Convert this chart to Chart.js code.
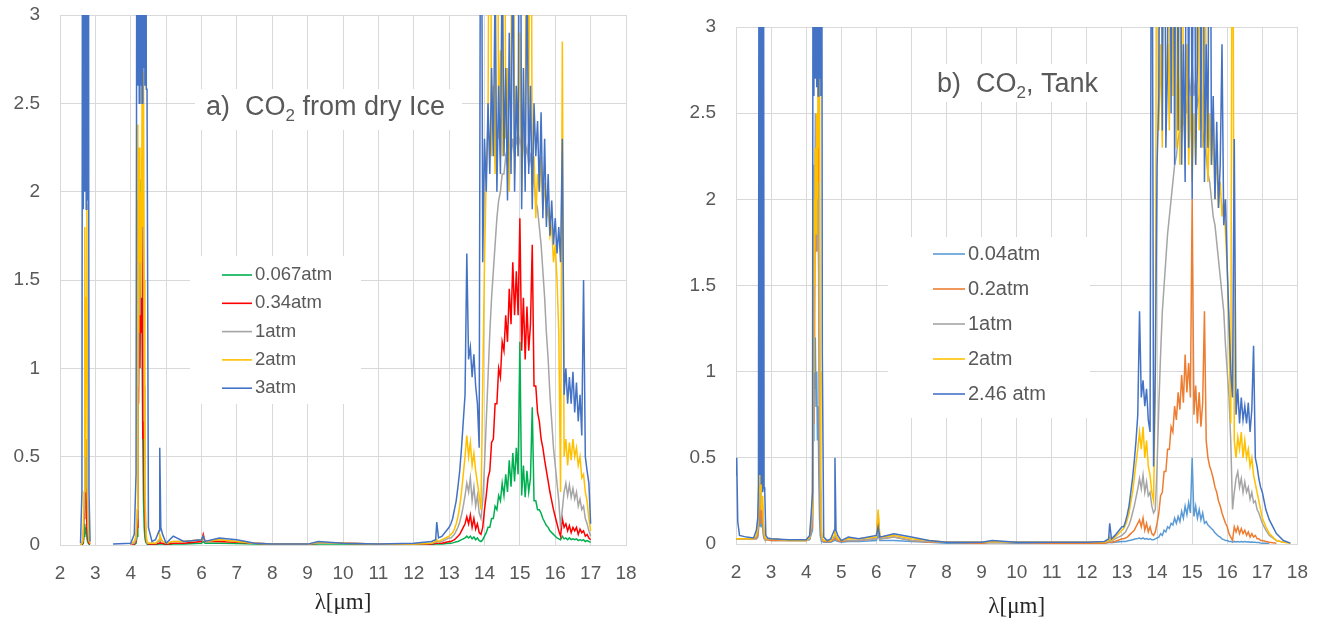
<!DOCTYPE html>
<html>
<head>
<meta charset="utf-8">
<script src="https://cdn.jsdelivr.net/npm/chart.js@4.4.1/dist/chart.umd.min.js"></script>
<style>
  body { margin: 0; background: #fff; }
  #wrap { position: relative; width: 1325px; height: 626px; }
  .panel { position: absolute; top: 0; height: 626px; }
</style>
</head>
<body>
<div id="wrap">
  <div class="panel" style="left:0;width:660px"><canvas id="chartA"></canvas></div>
  <div class="panel" style="left:660px;width:665px"><canvas id="chartB"></canvas></div>
</div>
<script>
// wavelength grid (um), shared by both panels
const wavelength = [
  2.00, 2.02, 2.05, 2.10, 2.30, 2.50, 2.58, 2.62, 2.64, 2.66, 2.68, 2.70, 2.72, 2.74, 2.76, 2.78, 2.80, 2.82, 2.85, 2.90, 3.00, 3.50, 4.00, 4.10, 4.15,
  4.18, 4.20, 4.22, 4.24, 4.26, 4.28, 4.30, 4.32, 4.34, 4.36, 4.38, 4.40, 4.42, 4.44, 4.46, 4.50,
  4.60, 4.70, 4.80, 4.82, 4.85, 4.90, 5.00, 5.20, 5.50, 6.00, 6.05, 6.10, 6.50, 7.00, 7.50, 8.00, 9.00, 9.30, 10.00, 11.00, 12.00, 12.50, 12.62, 12.65, 12.70, 12.80, 13.00,
  13.05, 13.10, 13.15, 13.20, 13.25, 13.30, 13.35, 13.40, 13.45, 13.50,
  13.55, 13.60, 13.65, 13.70, 13.75, 13.80, 13.85, 13.90, 13.95, 14.00,
  14.05, 14.10, 14.15, 14.20, 14.25, 14.30, 14.35, 14.40, 14.45, 14.50,
  14.55, 14.60, 14.65, 14.70, 14.75, 14.80, 14.85, 14.90, 14.95, 15.00,
  15.05, 15.10, 15.15, 15.20, 15.25, 15.30, 15.35, 15.40, 15.45, 15.50,
  15.55, 15.60, 15.65, 15.70, 15.75, 15.80, 15.85, 15.90, 15.95, 16.00,
  16.05, 16.10, 16.15, 16.20, 16.25, 16.30, 16.35, 16.40, 16.45, 16.50,
  16.55, 16.60, 16.65, 16.70, 16.75, 16.80, 16.85, 16.90, 16.95, 17.00,
  17.10, 17.20, 17.40, 17.60, 17.80, 18.00
];

// ---- panel a) CO2 from dry ice ----
const labelsA = ['0.067atm', '0.34atm', '1atm', '2atm', '3atm'];
const colorsA = ['#00B050', '#FF0000', '#A5A5A5', '#FFC000', '#4472C4'];

const atm0067 = [
  null, null, null, null, null, null, 0, 0.002, 0.005, 0.01, 0.05, 0.12, 0.06, 0.1, 0.04, 0.02, 0.01, 0.005, 0.002, null, null, null, 0.001, 0.002, 0.01,
  0.05, 0.6, 1.5, 1.8, 2.07, 1.6, 1.9, 1.3, 0.6, 0.25, 0.1, 0.04, 0.02, 0.01, 0.005, 0.002,
  0.002, 0.002, 0.005, 0.01, 0.005, 0.005, 0.002, 0.005, 0.005, 0.01, 0.02, 0.01, 0.01, 0.008, 0.005, 0.003, 0.003, 0.005, 0.005, 0.003, 0.003, 0.003, 0.005, 0.005, 0.005, 0.006, 0.01,
  0.01, 0.012, 0.015, 0.018, 0.02, 0.025, 0.03, 0.035, 0.04, 0.05,
  0.04, 0.05, 0.035, 0.045, 0.03, 0.04, 0.025, 0.02, 0.03, 0.05,
  0.07, 0.1, 0.1, 0.15, 0.15, 0.22, 0.2, 0.28, 0.25, 0.35,
  0.28, 0.4, 0.3, 0.48, 0.33, 0.52, 0.36, 0.55, 0.4, 1.15,
  0.28, 0.45, 0.27, 0.42, 0.3, 0.38, 0.78, 0.25, 0.25, 0.2,
  0.2, 0.18, 0.15, 0.13, 0.11, 0.1, 0.08, 0.07, 0.06, 0.05,
  0.04, 0.035, 0.03, 0.05, 0.035, 0.04, 0.03, 0.04, 0.03, 0.035,
  0.03, 0.035, 0.025, 0.03, 0.025, 0.03, 0.02, 0.025, 0.02, 0.015,
  null, null, null, null, null, null
];
const atm034 = [
  null, null, null, null, null, null, 0, 0.005, 0.01, 0.03, 0.15, 0.65, 0.2, 0.33, 0.1, 0.05, 0.02, 0.01, 0.005, null, null, null, 0.002, 0.005, 0.02,
  0.1, 1.95, 0.8, 1.4, 1.0, 1.6, 1.2, 1.95, 0.6, 0.7, 0.3, 0.15, 0.05, 0.02, 0.01, 0.005,
  0.005, 0.005, 0.01, 0.02, 0.01, 0.01, 0.005, 0.01, 0.01, 0.02, 0.06, 0.02, 0.02, 0.015, 0.01, 0.005, 0.005, 0.01, 0.01, 0.005, 0.005, 0.005, 0.01, 0.01, 0.01, 0.01, 0.02,
  0.02, 0.025, 0.03, 0.04, 0.05, 0.06, 0.08, 0.1, 0.12, 0.16,
  0.12, 0.17, 0.1, 0.15, 0.09, 0.12, 0.07, 0.06, 0.1, 0.2,
  0.28, 0.38, 0.42, 0.58, 0.6, 0.8, 0.8, 1.0, 0.95, 1.15,
  1.1, 1.3, 1.15, 1.45, 1.25, 1.6, 1.3, 1.55, 1.3, 1.85,
  1.1, 1.4, 1.05, 1.35, 1.1, 1.25, 1.7, 0.9, 0.9, 0.75,
  0.7, 0.6, 0.55, 0.48, 0.42, 0.36, 0.3, 0.25, 0.2, 0.16,
  0.12, 0.08, 0.05, 0.15, 0.1, 0.12, 0.08, 0.11, 0.07, 0.1,
  0.08, 0.1, 0.06, 0.09, 0.07, 0.08, 0.05, 0.06, 0.04, 0.03,
  null, null, null, null, null, null
];
const atm1A = [
  null, null, null, null, null, null, 0, 0.01, 0.02, 0.05, 0.2, 0.7, 0.3, 0.6, 0.4, 0.15, 0.05, 0.02, 0.01, null, null, null, 0.005, 0.01, 0.03,
  0.15, 1.5, 0.9, 1.8, 1.3, 2.0, 1.6, 2.2, 2.78, 1.6, 0.9, 0.3, 0.1, 0.03, 0.01, 0.01,
  0.01, 0.01, 0.02, 0.04, 0.03, 0.02, 0.01, 0.02, 0.02, 0.03, 0.04, 0.02, 0.03, 0.02, 0.01, 0.005, 0.005, 0.01, 0.01, 0.005, 0.005, 0.01, 0.015, 0.02, 0.015, 0.02, 0.04,
  0.04, 0.05, 0.06, 0.08, 0.1, 0.13, 0.17, 0.22, 0.28, 0.35,
  0.3, 0.38, 0.25, 0.33, 0.22, 0.28, 0.18, 0.15, 0.25, 0.45,
  0.7, 0.95, 1.2, 1.4, 1.55, 1.7, 1.85, 1.95, 2.0, 2.1,
  2.1, 2.2, 2.15, 2.25, 2.2, 2.3, 2.2, 2.3, 2.25, 2.3,
  2.25, 2.3, 2.2, 2.25, 2.15, 2.2, 2.1, 2.05, 1.95, 1.9,
  1.8, 1.7, 1.55, 1.4, 1.2, 1.05, 0.85, 0.7, 0.55, 0.45,
  0.35, 0.25, 0.1, 0.2, 0.3, 0.35, 0.28, 0.34, 0.27, 0.32,
  0.26, 0.3, 0.22, 0.26, 0.2, 0.22, 0.15, 0.12, 0.08, 0.05,
  null, null, null, null, null, null
];
const atm2A = [
  null, null, null, null, null, null, 0, 0.01, 0.02, 0.1, 0.3, 1.8, 0.5, 1.4, 1.93, 0.28, 0.1, 0.03, 0.01, null, null, null, 0.005, 0.02, 0.05,
  0.2, 2.38, 1.2, 2.25, 1.6, 2.0, 1.4, 2.6, 1.8, 2.68, 1.5, 0.4, 0.15, 0.05, 0.02, 0.01,
  0.01, 0.01, 0.03, 0.06, 0.04, 0.02, 0.01, 0.02, 0.02, 0.03, 0.05, 0.02, 0.03, 0.02, 0.01, 0.005, 0.005, 0.015, 0.01, 0.005, 0.005, 0.01, 0.02, 0.03, 0.02, 0.03, 0.05,
  0.06, 0.07, 0.09, 0.12, 0.16, 0.22, 0.3, 0.4, 0.5, 0.62,
  0.5, 0.58, 0.45, 0.52, 0.42, 0.35, 0.28, 0.2, 0.9, 1.6,
  2.1, 2.4, 5, 2.2, 2.6, 2.1, 5, 2.3, 2.8, 2.2,
  5, 2.3, 2.7, 2.0, 2.5, 5, 2.1, 2.6, 2.2, 2.9,
  2.0, 2.4, 2.1, 5, 2.3, 5, 2.0, 2.2, 1.85, 2.1,
  2.0, 2.2, 1.9, 2.05, 1.85, 1.9, 1.75, 1.8, 1.6, 1.7,
  1.5, 1.2, 0.3, 2.85, 0.5, 0.6, 0.45, 0.58, 0.48, 0.6,
  0.5, 0.55, 0.45, 0.5, 0.38, 0.4, 0.3, 0.25, 0.15, 0.08,
  null, null, null, null, null, null
];
const atm3A = [
  null, null, null, null, null, null, 0.01, 0.3, 5, 1.9, 5, 2.0, 5, 1.9, 5, 1.95, 5, 0.3, 0.02, null, null, 0.005, 0.01, 0.06, 0.4,
  5, 2.6, 5, 2.5, 5, 2.6, 5, 2.5, 5, 2.7, 5, 2.6, 5, 2.58, 2.58, 0.1,
  0.02, 0.03, 0.08, 0.55, 0.1, 0.06, 0.01, 0.05, 0.02, 0.03, 0.05, 0.02, 0.04, 0.03, 0.01, 0.005, 0.005, 0.02, 0.01, 0.005, 0.01, 0.02, 0.03, 0.13, 0.04, 0.05, 0.1,
  0.12, 0.15, 0.2, 0.25, 0.33, 0.42, 0.55, 0.7, 0.85, 1.65,
  1.05, 1.12, 0.95, 1.08, 0.9, 0.8, 0.55, 5, 1.6, 2.3,
  2.0, 2.5, 2.1, 2.7, 2.2, 3.2, 2.0, 2.6, 2.1, 3.4,
  2.2, 2.7, 1.95, 2.9, 2.1, 3.5, 2.0, 2.6, 2.2, 5,
  1.9, 2.7, 2.0, 3.3, 2.1, 2.6, 1.9, 2.5, 2.2, 2.4,
  2.0, 2.45, 1.85, 2.3, 1.8, 2.1, 1.75, 1.95, 1.7, 1.85,
  1.65, 1.8, 1.6, 2.3, 0.85, 1.0, 0.8, 0.95, 0.8, 0.98,
  0.75, 0.92, 0.7, 0.85, 0.62, 1.5, 0.5, 0.42, 0.35, 0.12,
  null, null, null, null, null, null
];

// ---- panel b) CO2, tank ----
const labelsB = ['0.04atm', '0.2atm', '1atm', '2atm', '2.46 atm'];
const colorsB = ['#5B9BD5', '#ED7D31', '#A5A5A5', '#FFC000', '#4472C4'];

const atm004 = [
  0.03, 0.03, 0.03, 0.03, 0.03, 0.03, 0.03, 0.04, 0.08, 0.15, 0.1, 0.3, 0.1, 0.15, 0.1, 0.05, 0.03, 0.03, 0.025, 0.025, 0.02, 0.02, 0.02, 0.025, 0.06,
  0.08, 0.6, 1.3, 0.9, 1.2, 0.8, 1.0, 0.6, 0.8, 0.4, 0.15, 0.05, 0.03, 0.02, 0.015, 0.01,
  0.01, 0.01, 0.02, 0.03, 0.02, 0.015, 0.01, 0.015, 0.015, 0.02, 0.05, 0.02, 0.02, 0.015, 0.01, 0.005, 0.005, 0.008, 0.005, 0.005, 0.005, 0.005, 0.008, 0.01, 0.008, 0.01, 0.015,
  0.015, 0.015, 0.018, 0.02, 0.022, 0.025, 0.028, 0.03, 0.032, 0.035,
  0.03, 0.035, 0.028, 0.032, 0.027, 0.03, 0.025, 0.025, 0.03, 0.035,
  0.04, 0.06, 0.05, 0.08, 0.07, 0.1, 0.09, 0.12, 0.11, 0.15,
  0.12, 0.16, 0.13, 0.19, 0.15, 0.22, 0.17, 0.24, 0.18, 0.5,
  0.16, 0.22, 0.15, 0.2, 0.14, 0.18, 0.12, 0.13, 0.11, 0.1,
  0.09, 0.08, 0.065, 0.055, 0.045, 0.04, 0.03, 0.025, 0.02, 0.02,
  0.015, 0.015, 0.01, 0.015, 0.012, 0.015, 0.012, 0.015, 0.012, 0.014,
  0.012, 0.013, 0.01, 0.012, 0.01, 0.01, 0.008, 0.008, 0.006, 0.005,
  0.004, 0.003, null, null, null, null
];
const atm02 = [
  0.03, 0.03, 0.03, 0.03, 0.03, 0.03, 0.03, 0.05, 0.1, 0.2, 0.15, 0.35, 0.12, 0.2, 0.15, 0.07, 0.04, 0.03, 0.025, 0.025, 0.02, 0.02, 0.02, 0.03, 0.08,
  0.1, 0.7, 1.5, 1.2, 2.0, 1.7, 2.4, 2.1, 2.35, 1.3, 0.45, 0.15, 0.05, 0.03, 0.02, 0.015,
  0.015, 0.015, 0.03, 0.05, 0.03, 0.02, 0.015, 0.02, 0.02, 0.03, 0.18, 0.03, 0.04, 0.02, 0.01, 0.01, 0.005, 0.01, 0.008, 0.005, 0.005, 0.005, 0.01, 0.01, 0.01, 0.015, 0.03,
  0.03, 0.035, 0.04, 0.05, 0.06, 0.07, 0.08, 0.1, 0.12, 0.14,
  0.1, 0.15, 0.08, 0.12, 0.07, 0.1, 0.06, 0.05, 0.07, 0.12,
  0.18, 0.28, 0.3, 0.42, 0.42, 0.55, 0.55, 0.68, 0.65, 0.8,
  0.72, 0.88, 0.78, 0.98, 0.82, 1.1, 0.88, 1.05, 0.85, 2.0,
  0.75, 0.92, 0.7, 0.88, 0.68, 0.82, 1.35, 0.6, 0.5, 0.45,
  0.42, 0.38, 0.33, 0.3, 0.25, 0.22, 0.18, 0.15, 0.12, 0.1,
  0.06, 0.04, 0.02, 0.1, 0.07, 0.1, 0.06, 0.09, 0.06, 0.08,
  0.05, 0.07, 0.04, 0.06, 0.04, 0.05, 0.03, 0.03, 0.02, 0.02,
  0.015, 0.01, 0.005, null, null, null
];
const atm1B = [
  0.03, 0.03, 0.03, 0.03, 0.03, 0.03, 0.04, 0.08, 0.15, 0.3, 0.25, 0.35, 0.2, 0.25, 0.22, 0.1, 0.06, 0.04, 0.03, 0.03, 0.03, 0.02, 0.02, 0.03, 0.1,
  0.15, 1.3, 2.2, 1.8, 2.5, 2.0, 2.3, 1.7, 2.1, 1.5, 0.8, 0.3, 0.1, 0.04, 0.02, 0.02,
  0.02, 0.02, 0.04, 0.06, 0.04, 0.03, 0.02, 0.02, 0.02, 0.03, 0.08, 0.03, 0.04, 0.02, 0.015, 0.01, 0.01, 0.01, 0.01, 0.01, 0.01, 0.01, 0.015, 0.02, 0.015, 0.03, 0.05,
  0.06, 0.07, 0.09, 0.11, 0.14, 0.18, 0.22, 0.27, 0.32, 0.38,
  0.32, 0.4, 0.3, 0.36, 0.28, 0.3, 0.22, 0.18, 0.2, 0.45,
  0.8, 1.1, 1.35, 1.5, 1.65, 1.8, 1.9, 2.0, 2.1, 2.2,
  2.25, 2.35, 2.4, 2.5, 2.45, 2.6, 2.5, 2.7, 2.6, 2.8,
  2.6, 2.7, 2.55, 2.6, 2.45, 2.4, 2.3, 2.25, 2.15, 2.1,
  2.0, 1.9, 1.85, 1.75, 1.65, 1.55, 1.45, 1.35, 1.15, 1.0,
  0.85, 0.6, 0.2, 0.3, 0.38, 0.42, 0.33, 0.38, 0.3, 0.36,
  0.3, 0.33, 0.26, 0.3, 0.24, 0.25, 0.2, 0.18, 0.15, 0.12,
  0.08, 0.05, 0.02, 0.01, null, null
];
const atm2B = [
  0.03, 0.03, 0.03, 0.03, 0.03, 0.03, 0.05, 0.1, 0.2, 0.35, 0.3, 0.9, 0.2, 0.25, 0.28, 0.15, 0.08, 0.04, 0.03, 0.03, 0.03, 0.02, 0.02, 0.04, 0.15,
  0.2, 1.0, 2.0, 1.5, 2.3, 1.8, 2.5, 2.0, 2.8, 2.3, 2.97, 1.0, 0.4, 0.08, 0.03, 0.02,
  0.02, 0.02, 0.05, 0.08, 0.05, 0.03, 0.02, 0.03, 0.03, 0.04, 0.2, 0.04, 0.05, 0.03, 0.02, 0.01, 0.01, 0.015, 0.01, 0.01, 0.01, 0.01, 0.02, 0.04, 0.02, 0.04, 0.08,
  0.09, 0.11, 0.14, 0.18, 0.24, 0.3, 0.38, 0.47, 0.55, 0.65,
  0.55, 0.68, 0.5, 0.6, 0.45, 0.4, 0.3, 0.25, 0.9, 5,
  2.4, 2.9, 2.3, 5, 2.5, 2.9, 2.4, 5, 2.6, 5,
  2.3, 2.8, 2.2, 5, 2.5, 2.3, 2.9, 2.2, 2.6, 2.1,
  2.5, 2.2, 5, 2.4, 2.7, 2.3, 5, 2.4, 2.1, 2.5,
  2.2, 2.5, 2.0, 2.3, 1.95, 2.1, 1.9, 2.0, 1.8, 1.6,
  1.2, 0.7, 5, 0.6, 0.5, 0.62, 0.55, 0.65, 0.5, 0.6,
  0.5, 0.55, 0.45, 0.5, 0.4, 0.35, 0.3, 0.25, 0.2, 0.15,
  0.1, 0.06, 0.02, 0.01, 0.005, null
];
const atm246 = [
  0.4, 0.5, 0.13, 0.05, 0.04, 0.035, 0.08, 0.15, 0.35, 5, 0.4, 5, 0.35, 5, 0.3, 5, 0.33, 0.3, 0.05, 0.035, 0.03, 0.025, 0.025, 0.05, 0.2,
  0.3, 5, 2.6, 5, 2.7, 5, 2.65, 5, 2.6, 5, 2.7, 5, 2.6, 5, 1.1, 0.04,
  0.02, 0.03, 0.08, 0.5, 0.08, 0.05, 0.02, 0.04, 0.03, 0.05, 0.1, 0.04, 0.06, 0.04, 0.02, 0.01, 0.01, 0.02, 0.01, 0.01, 0.01, 0.015, 0.03, 0.12, 0.03, 0.05, 0.1,
  0.1, 0.13, 0.17, 0.22, 0.3, 0.38, 0.48, 0.6, 0.75, 1.35,
  0.85, 0.95, 0.8, 0.9, 0.72, 0.65, 5, 0.45, 1.0, 2.2,
  2.6, 5, 2.4, 5, 2.3, 2.8, 5, 2.5, 5, 2.2,
  5, 2.4, 5, 2.2, 2.9, 2.1, 5, 2.3, 5, 2.0,
  5, 2.2, 2.8, 5, 2.3, 5, 2.1, 2.9, 2.3, 5,
  2.2, 2.6, 2.0, 2.45, 1.95, 2.2, 2.9, 1.85, 2.0, 1.6,
  1.3, 1.0, 0.85, 2.35, 0.75, 0.9, 0.7, 0.85, 0.72, 0.8,
  0.7, 0.82, 0.65, 0.78, 1.15, 0.5, 0.45, 0.38, 0.33, 0.3,
  0.2, 0.14, 0.06, 0.02, 0.005, null
];

const seriesA = [atm0067, atm034, atm1A, atm2A, atm3A];
const seriesB = [atm004, atm02, atm1B, atm2B, atm246];
const titleA = ['a)  CO', '2', ' from dry Ice'];
const titleB = ['b)  CO', '2', ', Tank'];
const xTitle = 'λ[μm]';

[...seriesA, ...seriesB].forEach((s, i) => {
  if (s.length !== wavelength.length) throw new Error('series ' + i + ' has ' + s.length + ' values, expected ' + wavelength.length);
});

Chart.defaults.font.family = '"Liberation Sans", Arial, sans-serif';
Chart.defaults.color = '#595959';

function toPoints(values) {
  return wavelength.map((x, i) => ({ x: x, y: values[i] }));
}

function buildDatasets(labels, colors, series) {
  return series.map((vals, i) => ({
    label: labels[i],
    data: toPoints(vals),
    borderColor: colors[i],
    backgroundColor: colors[i],
    borderWidth: 1.5,
    pointRadius: 0,
    tension: 0,
    spanGaps: false,
    clip: 0,
    order: series.length - 1 - i   // last series drawn on top
  }));
}

// white boxes behind title and legend, plus the title text and legend itself
function overlay(o) {
  return {
    id: 'overlay',
    beforeDatasetsDraw(chart) {
      const ctx = chart.ctx;
      ctx.save();
      ctx.fillStyle = '#ffffff';
      o.blanks.forEach(b => ctx.fillRect(b[0], b[1], b[2], b[3]));
      ctx.restore();
    },
    afterDraw(chart) {
      const ctx = chart.ctx;
      const fam = '"Liberation Sans", Arial, sans-serif';
      ctx.save();
      ctx.fillStyle = '#595959';
      ctx.textBaseline = 'alphabetic';
      let x = o.titleX;
      o.title.forEach((part, i) => {
        const sub = i === 1;
        ctx.font = (sub ? Math.round(o.titleSize * 0.62) : o.titleSize) + 'px ' + fam;
        ctx.fillText(part, x, o.titleY + (sub ? o.titleSize * 0.22 : 0));
        x += ctx.measureText(part).width;
      });

      ctx.font = o.legendSize + 'px ' + fam;
      ctx.textBaseline = 'middle';
      chart.data.datasets.forEach((ds, i) => {
        const y = o.legendY + i * o.legendGap;
        ctx.strokeStyle = ds.borderColor;
        ctx.lineWidth = 1.6;
        ctx.beginPath();
        ctx.moveTo(o.legendX, y);
        ctx.lineTo(o.legendX + o.lineLen, y);
        ctx.stroke();
        ctx.fillText(ds.label, o.legendX + o.lineLen + 3, y);
      });
      ctx.restore();
    }
  };
}

function makeChart(id, labels, colors, series, lay, ov) {
  return new Chart(document.getElementById(id), {
    type: 'line',
    data: { datasets: buildDatasets(labels, colors, series) },
    options: {
      responsive: true,
      maintainAspectRatio: false,
      animation: false,
      devicePixelRatio: 1,
      layout: { padding: { top: lay.top, right: lay.right, left: 0, bottom: 0 } },
      plugins: { legend: { display: false }, tooltip: { enabled: false } },
      scales: {
        x: {
          type: 'linear', min: 2, max: 18,
          ticks: { stepSize: 1, padding: 17, color: '#595959', font: { size: 19 }, callback: v => String(v) },
          grid: { color: '#d9d9d9', drawTicks: false },
          border: { color: '#d9d9d9' },
          title: { display: true, text: xTitle, color: '#262626', font: { family: '"Liberation Serif", "Times New Roman", serif', size: 23 }, padding: { top: 0, bottom: lay.titlePad } },
          afterFit: s => { s.height = lay.xHeight; }
        },
        y: {
          min: 0, max: 3,
          ticks: { stepSize: 0.5, padding: 20, color: '#595959', font: { size: 19 }, callback: v => String(v) },
          grid: { color: '#d9d9d9', drawTicks: false },
          border: { color: '#d9d9d9' },
          afterFit: s => { s.width = lay.yWidth; s.paddingTop = 0; s.paddingBottom = 0; }
        }
      }
    },
    plugins: [overlay(ov)]
  });
}

makeChart('chartA', labelsA, colorsA, seriesA,
  { top: 15, right: 34, xHeight: 81, yWidth: 60, titlePad: 9 },
  { title: titleA, titleX: 206, titleY: 115, titleSize: 27,
    blanks: [[195, 89, 267, 41], [190, 256, 171, 148]],
    legendX: 222, legendY: 275, legendGap: 28.3, lineLen: 30, legendSize: 18.5 });

makeChart('chartB', labelsB, colorsB, seriesB,
  { top: 27, right: 27, xHeight: 82, yWidth: 76, titlePad: 5 },
  { title: titleB, titleX: 277, titleY: 92, titleSize: 27,
    blanks: [[262, 64, 184, 38], [228, 237, 202, 181]],
    legendX: 273, legendY: 254, legendGap: 35, lineLen: 32, legendSize: 20 });
</script>
</body>
</html>
